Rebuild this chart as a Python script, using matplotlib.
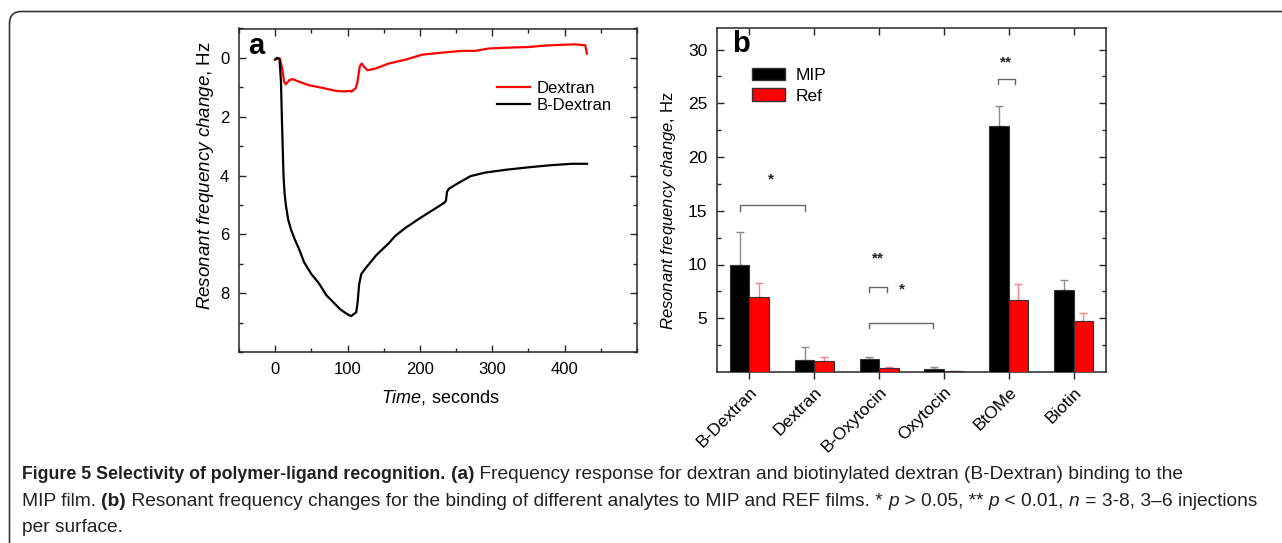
import matplotlib.pyplot as plt
from matplotlib.patches import Patch, FancyBboxPatch
from matplotlib.transforms import IdentityTransform
from matplotlib.ticker import MultipleLocator, FixedLocator

plt.rcParams['font.family'] = ['Liberation Sans', 'DejaVu Sans']
plt.rcParams['mathtext.fontset'] = 'custom'
plt.rcParams['mathtext.rm'] = 'Liberation Sans'
plt.rcParams['mathtext.it'] = 'Liberation Sans:italic'

# panel a: frequency response traces
time_dex = [0, 3, 6.4, 9.2, 12.4, 14.7, 19.3, 23.9, 33, 46.9, 65.3, 83.7, 95, 104.4, 105,
            111, 113.3, 116.8, 119.5, 122.8, 127.4, 138.9, 157, 180, 203, 230.8, 258.4,
            276.8, 295, 322.8, 350, 373, 401, 414.7, 428.5, 430.8]
shift_dex = [0.06, 0.0, 0.02, 0.3, 0.81, 0.9, 0.76, 0.72, 0.81, 0.93, 1.02, 1.12, 1.14, 1.12, 1.15,
             1.04, 0.87, 0.3, 0.19, 0.3, 0.42, 0.36, 0.19, 0.06, -0.11, -0.18, -0.24,
             -0.24, -0.32, -0.35, -0.37, -0.42, -0.45, -0.46, -0.43, -0.15]

time_bdex = [0, 3, 6, 8, 9.2, 11.5, 13, 14.7, 18, 22, 27.6, 33, 40, 50, 60, 66, 70, 80, 90,
             100, 105, 108, 112, 114, 116, 119, 125, 140, 157, 166, 180, 200, 220, 234, 236,
             237.5, 240, 250, 270, 290, 320, 350, 380, 410, 431]
shift_bdex = [0.05, 0.0, 0.05, 0.8, 2.0, 4.0, 4.6, 5.0, 5.5, 5.85, 6.2, 6.5, 6.95, 7.35, 7.65,
              7.88, 8.05, 8.3, 8.55, 8.72, 8.78, 8.72, 8.65, 8.3, 7.7, 7.35, 7.15, 6.7, 6.3,
              6.05, 5.78, 5.45, 5.14, 4.92, 4.85, 4.55, 4.45, 4.3, 4.02, 3.9, 3.8, 3.72, 3.65,
              3.6, 3.6]

# panel b: bar data
categories = ['B-Dextran', 'Dextran', 'B-Oxytocin', 'Oxytocin', 'BtOMe', 'Biotin']
mip = [10.0, 1.15, 1.25, 0.3, 22.9, 7.6]
mip_err = [3.0, 1.15, 0.15, 0.15, 1.8, 1.0]
ref = [6.95, 1.0, 0.35, 0.05, 6.7, 4.75]
ref_err = [1.35, 0.4, 0.1, 0.05, 1.5, 0.75]

# significance brackets: (x start, x end, top, leg bottom) and star labels
brackets = [(-0.15, 0.85, 15.5, 14.95), (1.84, 2.12, 7.9, 7.4),
            (1.84, 2.83, 4.6, 4.1), (3.83, 4.1, 27.3, 26.8)]
stars = [(0.33, 17.9, '*'), (1.99, 10.6, '**'), (2.36, 7.7, '*'), (3.95, 28.75, '**')]

W, H = 1282, 543
fig = plt.figure(figsize=(W / 100, H / 100), dpi=100)
frame_col = '#262626'

# rounded border (only top and left edges show)
border = FancyBboxPatch((9.5, -30), 1400, H - 11.5 + 30, boxstyle='round,pad=0,rounding_size=12',
                        transform=IdentityTransform(), facecolor='none', edgecolor='#333333',
                        linewidth=1.2)
fig.patches.append(border)

ylab = r'$\it{Resonant\ frequency\ change}$, Hz'

# ---- panel a
ax = fig.add_axes([239 / W, 1 - 352 / H, 398 / W, 323.5 / H])
ax.plot(time_dex, shift_dex, color='#ff0000', lw=1.6, label='Dextran')
ax.plot(time_bdex, shift_bdex, color='black', lw=1.6, label='B-Dextran')
ax.set_xlim(-50, 500)
ax.set_ylim(10, -1)
ax.xaxis.set_major_locator(FixedLocator([0, 100, 200, 300, 400]))
ax.xaxis.set_minor_locator(MultipleLocator(50))
ax.yaxis.set_major_locator(FixedLocator([0, 2, 4, 6, 8]))
ax.yaxis.set_minor_locator(MultipleLocator(1))
ax.tick_params(which='both', direction='in', top=True, right=True, labelsize=12,
               color=frame_col, width=1)
ax.tick_params(which='major', length=5, pad=7)
ax.tick_params(which='minor', length=3)
for s in ax.spines.values():
    s.set_linewidth(1.1)
    s.set_color(frame_col)
ax.set_ylabel(ylab, fontsize=13.5)
ax.yaxis.set_label_coords(-0.058, 0.545)
ax.set_xlabel(r'$\it{Time}$, seconds', fontsize=13)
ax.xaxis.set_label_coords(0.505, -0.11)
ax.legend(loc='upper left', bbox_to_anchor=(0.61, 0.885), frameon=False, fontsize=12,
          handlelength=2.0, labelspacing=0.15, handletextpad=0.4)
ax.text(0.022, 0.99, 'a', transform=ax.transAxes, fontsize=21, fontweight='bold',
        va='top', ha='left')

# ---- panel b
bx = fig.add_axes([717 / W, 1 - 372 / H, 389 / W, 344 / H])
xs = list(range(len(categories)))
bw = 0.3
bx.bar([x - bw / 2 for x in xs], mip, bw, color='black', edgecolor='#333333', lw=0.8,
       label='MIP', zorder=3)
bx.bar([x + bw / 2 for x in xs], ref, bw, color='#ff0000', edgecolor='#333333', lw=0.8,
       label='Ref', zorder=3)
bx.errorbar([x - bw / 2 for x in xs], mip, yerr=[[0] * len(mip), mip_err], fmt='none',
            ecolor='#8c8c8c', elinewidth=1, capsize=3, capthick=1, zorder=2)
bx.errorbar([x + bw / 2 for x in xs], ref, yerr=[[0] * len(ref), ref_err], fmt='none',
            ecolor='#ff8080', elinewidth=1, capsize=3, capthick=1, zorder=2)
for x0, x1, top, bot in brackets:
    bx.plot([x0, x0, x1, x1], [bot, top, top, bot], color='#666666', lw=1)
for x, y, t in stars:
    bx.text(x, y, t, ha='center', va='center', fontsize=11, fontweight='bold', color='#222222')
bx.set_xlim(-0.5, 5.5)
bx.set_ylim(0, 32)
bx.set_xticks(xs)
bx.set_xticklabels(categories, rotation=45, ha='right', va='top', rotation_mode='anchor',
                   fontsize=12.5)
bx.yaxis.set_major_locator(FixedLocator([5, 10, 15, 20, 25, 30]))
bx.yaxis.set_minor_locator(FixedLocator([2.5, 7.5, 12.5, 17.5, 22.5, 27.5]))
bx.tick_params(axis='y', which='both', direction='in', right=True, labelsize=12.5,
               color=frame_col, width=1)
bx.tick_params(axis='y', which='major', length=5, pad=7)
bx.tick_params(axis='y', which='minor', length=3)
bx.tick_params(axis='x', direction='out', length=5, width=1, color=frame_col, pad=4)
top = bx.secondary_xaxis('top')
top.set_xticks(xs)
top.tick_params(direction='in', length=5, width=1, color=frame_col, labeltop=False)
top.spines['top'].set_visible(False)
for s in bx.spines.values():
    s.set_linewidth(1.1)
    s.set_color(frame_col)
bx.set_ylabel(ylab, fontsize=12)
bx.yaxis.set_label_coords(-0.10, 0.468)
bx.legend(handles=[Patch(facecolor='black', edgecolor='#333333', label='MIP'),
                   Patch(facecolor='#ff0000', edgecolor='#333333', label='Ref')],
          loc='upper left', bbox_to_anchor=(0.05, 0.93), frameon=False, fontsize=12.5,
          handlelength=1.9, handleheight=0.75, labelspacing=0.3, handletextpad=0.6)
bx.text(0.038, 0.995, 'b', transform=bx.transAxes, fontsize=21, fontweight='bold',
        va='top', ha='left')

# ---- caption, drawn run by run (run = text, weight, style, size)
cap_font = ['Liberation Sans', 'DejaVu Sans']
renderer = fig.canvas.get_renderer()


def draw_runs(x, y, runs):
    for txt, weight, style, size in runs:
        t = fig.text(x / W, 1 - y / H, txt, fontsize=size, family=cap_font,
                     fontweight=weight, fontstyle=style, color='#231f20', va='baseline')
        x += t.get_window_extent(renderer).width


n, b, i = 'normal', 'bold', 'italic'
rs, hs = 13.8, 12.8
draw_runs(22, 479, [('Figure 5 Selectivity of polymer-ligand recognition.', b, n, hs),
                    (' ', n, n, rs), ('(a)', b, n, rs),
                    (' Frequency response for dextran and biotinylated dextran (B-Dextran) binding to the', n, n, rs)])
draw_runs(22, 506, [('MIP film. ', n, n, rs), ('(b)', b, n, rs),
                    (' Resonant frequency changes for the binding of different analytes to MIP and REF films. * ', n, n, rs),
                    ('p', n, i, rs), (' > 0.05, ** ', n, n, rs), ('p', n, i, rs), (' < 0.01, ', n, n, rs),
                    ('n', n, i, rs), (' = 3-8, 3\u20136 injections', n, n, rs)])
draw_runs(22, 532, [('per surface.', n, n, rs)])

fig.savefig('out.png', dpi=100)
